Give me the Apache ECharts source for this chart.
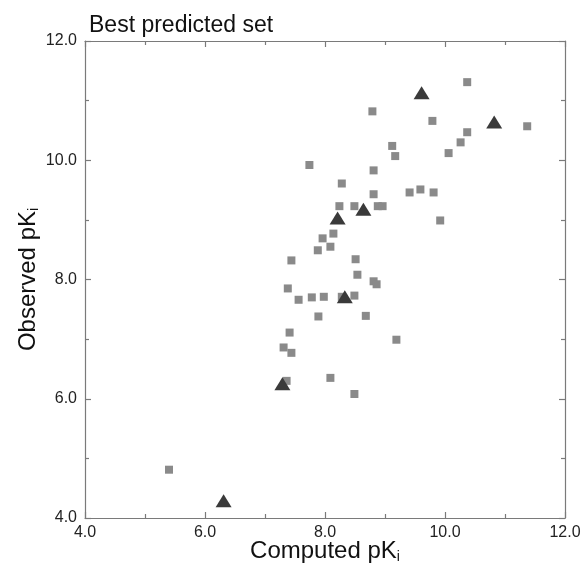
<!DOCTYPE html>
<html>
<head>
<meta charset="utf-8">
<script src="https://cdn.jsdelivr.net/npm/echarts@6/dist/echarts.min.js"></script>
<style>html,body{margin:0;padding:0;background:#fff}#c{width:584px;height:564px}</style>
</head>
<body>
<div id="c"></div>
<script>
var titleText = 'Best predicted set';
var xTicks = [4.0, 6.0, 8.0, 10.0, 12.0];
var yTicks = [4.0, 6.0, 8.0, 10.0, 12.0];
var squaresX = [10.37, 8.79, 9.79, 10.37, 10.26, 10.06, 9.12, 9.17, 7.74, 8.81, 8.28, 8.81, 9.41, 9.59, 9.81, 8.24, 8.49, 8.88, 8.96, 9.92, 7.96, 8.14, 7.88, 8.09, 7.44, 8.51, 8.54, 8.81, 8.86, 7.38, 7.56, 7.78, 7.98, 8.28, 8.49, 7.89, 8.68, 7.41, 9.19, 7.31, 7.44, 7.36, 8.09, 8.49, 5.40, 11.37];
var squaresY = [11.31, 10.82, 10.66, 10.47, 10.30, 10.12, 10.24, 10.07, 9.92, 9.83, 9.61, 9.43, 9.46, 9.51, 9.46, 9.23, 9.23, 9.23, 9.23, 8.99, 8.69, 8.77, 8.49, 8.55, 8.32, 8.34, 8.08, 7.97, 7.92, 7.85, 7.66, 7.70, 7.71, 7.71, 7.73, 7.38, 7.39, 7.11, 6.99, 6.86, 6.77, 6.30, 6.35, 6.08, 4.81, 10.57];
var trianglesX = [6.31, 7.29, 8.33, 8.21, 8.64, 9.61, 10.82];
var trianglesY = [4.29, 6.25, 7.71, 9.03, 9.18, 11.13, 10.64];

function pairs(xs, ys) { return xs.map(function (x, i) { return [x, ys[i]]; }); }

var axisCol = '#7a7a7a';
var FF = 'Liberation Sans, Arial, sans-serif';
var labelStyle = { fontFamily: FF, fontSize: 16, color: '#222' };
var nameRich = {
  a: { fontFamily: FF, fontSize: 24, lineHeight: 26, color: '#111' },
  b: { fontFamily: FF, fontSize: 14, lineHeight: 26, color: '#111', verticalAlign: 'bottom' }
};
function fmt(v) { return v.toFixed(1); }
function baseAxis(extra) {
  var a = {
    type: 'value', min: 4, max: 12, interval: 2,
    axisLine: { show: true, lineStyle: { color: axisCol, width: 1.2 } },
    axisTick: { show: true, inside: true, length: 6, lineStyle: { color: axisCol, width: 1.2 } },
    minorTick: { show: true, splitNumber: 2, length: 4, lineStyle: { color: axisCol, width: 1.2 } },
    splitLine: { show: false },
    minorSplitLine: { show: false }
  };
  for (var k in extra) a[k] = extra[k];
  return a;
}

var chart = echarts.init(document.getElementById('c'), null, { renderer: 'canvas' });
chart.setOption({
  animation: false,
  backgroundColor: '#fff',
  title: {
    text: titleText, left: 84, top: 9,
    textStyle: { fontFamily: FF, fontSize: 23, fontWeight: 'normal', color: '#111' }
  },
  grid: { left: 85, right: 19, top: 41, bottom: 46, containLabel: false, outerBoundsMode: 'none' },
  xAxis: [
    baseAxis({
      position: 'bottom',
      axisLabel: Object.assign({ margin: 7, formatter: fmt }, labelStyle),
      name: '{a|Computed pK}{b|i}', nameLocation: 'middle', nameGap: 20, nameMoveOverlap: false,
      nameTextStyle: { rich: nameRich }
    }),
    baseAxis({ position: 'top', axisLabel: { show: false } })
  ],
  yAxis: [
    baseAxis({
      position: 'left',
      axisLabel: Object.assign({ margin: 8, formatter: fmt }, labelStyle),
      name: '{a|Observed pK}{b|i}', nameLocation: 'middle', nameGap: 44, nameRotate: 90, nameMoveOverlap: false,
      nameTextStyle: { rich: nameRich }
    }),
    baseAxis({ position: 'right', axisLabel: { show: false } })
  ],
  series: [
    {
      type: 'scatter', name: 'squares', data: pairs(squaresX, squaresY),
      symbol: 'rect', symbolSize: 8,
      itemStyle: { color: '#8a8a8a', opacity: 1 }
    },
    {
      type: 'scatter', name: 'triangles', data: pairs(trianglesX, trianglesY),
      symbol: 'triangle', symbolSize: [16, 13],
      itemStyle: { color: '#3a3a3a', opacity: 1 }
    }
  ]
});
</script>
</body>
</html>
